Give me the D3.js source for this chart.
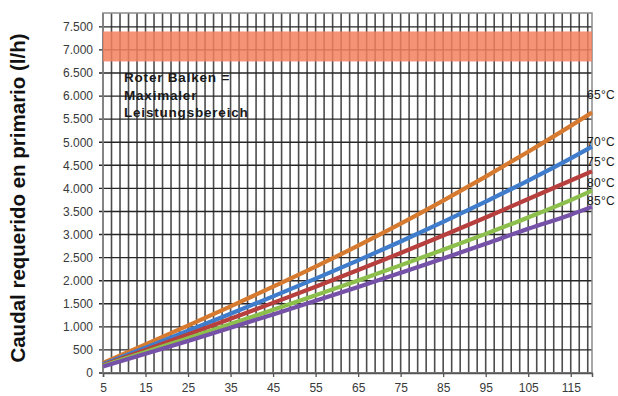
<!DOCTYPE html>
<html>
<head>
<meta charset="utf-8">
<script src="https://cdn.jsdelivr.net/npm/d3@7"></script>
<style>
  html, body { margin: 0; padding: 0; background: #fff; }
  svg { display: block; font-family: "Liberation Sans", Arial, sans-serif; }
</style>
</head>
<body>
<svg id="chart" width="618" height="396"></svg>
<script>
// ---- data ----
const xValues = [5, 15, 25, 35, 45, 55, 65, 75, 85, 95, 105, 115, 120];
const series65 = [220, 620, 1030, 1445, 1870, 2305, 2760, 3235, 3735, 4255, 4795, 5355, 5645];
const series70 = [190, 550, 915, 1285, 1660, 2045, 2440, 2850, 3275, 3715, 4170, 4650, 4905];
const series75 = [170, 500, 835, 1175, 1520, 1870, 2230, 2600, 2980, 3370, 3770, 4170, 4370];
const series80 = [155, 455, 755, 1060, 1370, 1685, 2005, 2335, 2670, 3015, 3370, 3745, 3950];
const series85 = [140, 415, 695, 980, 1270, 1565, 1865, 2170, 2480, 2800, 3125, 3430, 3600];
const seriesNames = ["65°C", "70°C", "75°C", "80°C", "85°C"];
const seriesColors = ["#d67a30", "#3f7ccb", "#b73f3d", "#8cbf4c", "#7651a8"];
const xTickLabels = [5, 15, 25, 35, 45, 55, 65, 75, 85, 95, 105, 115];
const yTickValues = [0, 500, 1000, 1500, 2000, 2500, 3000, 3500, 4000, 4500, 5000, 5500, 6000, 6500, 7000, 7500];
const bandRange = [6750, 7400];
const annotationLines = ["Roter Balken =", "Maximaler", "Leistungsbereich"];
const yTitle = "Caudal requerido en primario (l/h)";

const allSeries = [series65, series70, series75, series80, series85];

// ---- layout ----
const svg = d3.select("#chart");
const x = d3.scaleLinear().domain([5, 120]).range([103, 592]);
const y = d3.scaleLinear().domain([0, 7800]).range([373, 13]);

const fmt = v => d3.format(",")(v).replace(/,/g, ".");

// vertical grid (every 2 units)
const vGrid = d3.range(5, 120, 2);
svg.append("g").selectAll("line").data(vGrid).join("line")
  .attr("x1", d => x(d)).attr("x2", d => x(d))
  .attr("y1", y(7800)).attr("y2", y(0))
  .attr("stroke", "#4d4d4d").attr("stroke-width", 1.6);

// horizontal grid
svg.append("g").selectAll("line").data(yTickValues).join("line")
  .attr("x1", x(5) - 4).attr("x2", x(120))
  .attr("y1", d => y(d)).attr("y2", d => y(d))
  .attr("stroke", "#262626").attr("stroke-width", 1.4);

// frame
svg.append("rect")
  .attr("x", x(5)).attr("y", y(7800))
  .attr("width", x(120) - x(5)).attr("height", y(0) - y(7800))
  .attr("fill", "none").attr("stroke", "#8a8a8a").attr("stroke-width", 1.5);

// red band
svg.append("rect")
  .attr("x", x(5)).attr("y", y(bandRange[1]))
  .attr("width", x(120) - x(5)).attr("height", y(bandRange[0]) - y(bandRange[1]))
  .attr("fill", "#f3805e").attr("opacity", 0.85);

// axes via d3
const yAxis = d3.axisLeft(y).tickValues(yTickValues).tickSize(0).tickPadding(10).tickFormat(fmt);
const gy = svg.append("g").attr("transform", `translate(${x(5)},0)`).call(yAxis);
gy.select(".domain").remove();
gy.selectAll("text").attr("font-size", 12).attr("fill", "#3a3a3a")
  .attr("font-family", "Liberation Sans, Arial, sans-serif");

const xAxis = d3.axisBottom(x).tickValues(xTickLabels).tickSize(4).tickPadding(6).tickFormat(d3.format("d"));
const gx = svg.append("g").attr("transform", `translate(0,${y(0)})`).call(xAxis);
gx.select(".domain").attr("stroke", "#555").attr("stroke-width", 1.5);
gx.selectAll(".tick line").attr("stroke", "#555").attr("stroke-width", 1.3);
gx.selectAll("text").attr("font-size", 12).attr("fill", "#3a3a3a")
  .attr("font-family", "Liberation Sans, Arial, sans-serif");

// series lines
const line = d3.line().x((d, i) => x(xValues[i])).y(d => y(d)).curve(d3.curveMonotoneX);
svg.append("g").selectAll("path").data(allSeries).join("path")
  .attr("d", d => line(d))
  .attr("fill", "none")
  .attr("stroke", (d, i) => seriesColors[i])
  .attr("stroke-width", 4.2);

// series labels
const labelY = [99, 146, 166, 187, 205];
svg.append("g").selectAll("text").data(seriesNames).join("text")
  .attr("x", 587).attr("y", (d, i) => labelY[i])
  .attr("font-size", 12).attr("fill", "#1a1a1a")
  .attr("letter-spacing", "0.3")
  .text(d => d);

// annotation
svg.append("g").selectAll("text").data(annotationLines).join("text")
  .attr("x", 124).attr("y", (d, i) => 82 + i * 17.5)
  .attr("font-size", 13.5).attr("font-weight", "bold").attr("fill", "#1a1a1a")
  .attr("letter-spacing", "0.8")
  .text(d => d);

// y title
svg.append("text")
  .attr("transform", "translate(25,198) rotate(-90)")
  .attr("text-anchor", "middle")
  .attr("font-size", 20.5).attr("font-weight", "bold").attr("fill", "#111")
  .text(yTitle);
</script>
</body>
</html>
